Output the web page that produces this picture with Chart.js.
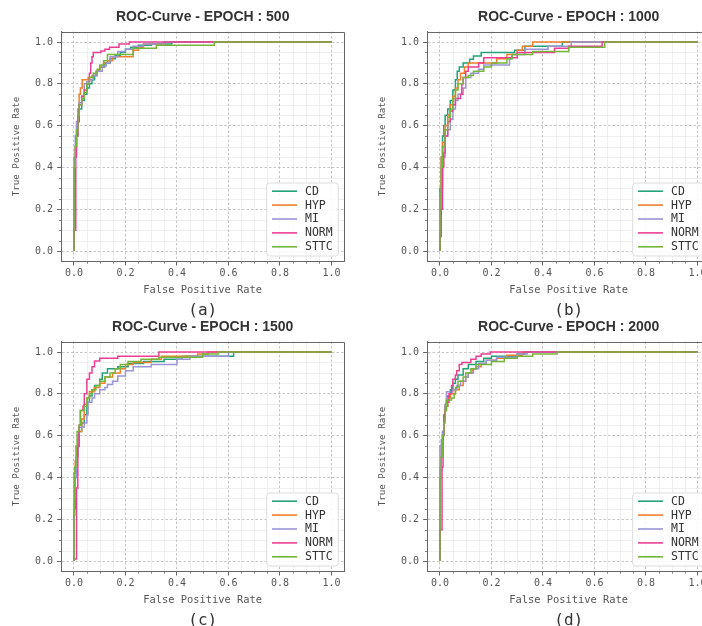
<!DOCTYPE html>
<html><head><meta charset="utf-8">
<script src="https://cdn.jsdelivr.net/npm/chart.js@4.4.1/dist/chart.umd.min.js"></script>
<style>
html,body{margin:0;padding:0;background:#fff;overflow:hidden;width:702px;height:626px;}
body{position:relative;}
canvas{position:absolute;}
</style></head><body>
<canvas id="ca" width="351" height="320" style="left:0px;top:0px;width:351px;height:320px"></canvas>
<canvas id="cb" width="351" height="320" style="left:366px;top:0px;width:351px;height:320px"></canvas>
<canvas id="cc" width="351" height="320" style="left:0px;top:310px;width:351px;height:320px"></canvas>
<canvas id="cd" width="351" height="320" style="left:366px;top:310px;width:351px;height:320px"></canvas>
<script>
// ---------- labels ----------
const SERIES_NAMES = ['CD', 'HYP', 'MI', 'NORM', 'STTC'];
const PANEL_TITLES = ['ROC-Curve - EPOCH : 500', 'ROC-Curve - EPOCH : 1000', 'ROC-Curve - EPOCH : 1500', 'ROC-Curve - EPOCH : 2000'];
const PANEL_CAPTIONS = ['(a)', '(b)', '(c)', '(d)'];
const MAJOR_TICKS = [0.0, 0.2, 0.4, 0.6, 0.8, 1.0];
const MINOR_TICKS = [0.05, 0.1, 0.15, 0.25, 0.3, 0.35, 0.45, 0.5, 0.55, 0.65, 0.7, 0.75, 0.85, 0.9, 0.95];
const X_TITLE = 'False Positive Rate';
const Y_TITLE = 'True Positive Rate';

// ---------- EPOCH 500 ----------
const FPR_500_CD   = [0,0,0.003,0.008,0.015,0.02,0.03,0.04,0.05,0.06,0.07,0.08,0.09,0.1,0.12,0.14,0.16,0.18,0.2,0.22,0.25,0.3,0.38,1];
const TPR_500_CD   = [0,0.25,0.45,0.55,0.62,0.68,0.72,0.75,0.78,0.8,0.82,0.84,0.86,0.88,0.9,0.92,0.935,0.95,0.965,0.975,0.985,0.99,1,1];
const FPR_500_HYP  = [0,0,0.005,0.01,0.015,0.02,0.025,0.032,0.055,0.07,0.085,0.1,0.115,0.13,0.15,0.23,0.25,0.27,0.35,1];
const TPR_500_HYP  = [0,0.3,0.5,0.6,0.68,0.75,0.78,0.82,0.83,0.84,0.86,0.88,0.9,0.91,0.93,0.96,0.975,0.99,1,1];
const FPR_500_MI   = [0,0,0.005,0.01,0.02,0.03,0.04,0.05,0.06,0.075,0.09,0.11,0.125,0.14,0.17,0.2,0.23,0.27,0.35,1];
const TPR_500_MI   = [0,0.45,0.55,0.62,0.71,0.74,0.8,0.81,0.82,0.84,0.86,0.885,0.9,0.93,0.955,0.965,0.98,0.99,1,1];
const FPR_500_NORM = [0,0,0.007,0.01,0.015,0.02,0.03,0.04,0.05,0.06,0.065,0.07,0.075,0.105,0.12,0.138,0.175,0.215,1];
const TPR_500_NORM = [0,0.1,0.45,0.55,0.62,0.7,0.74,0.77,0.8,0.85,0.9,0.93,0.95,0.957,0.965,0.975,0.99,1,1];
const FPR_500_STTC = [0,0,0.005,0.01,0.015,0.02,0.03,0.04,0.05,0.06,0.075,0.09,0.1,0.115,0.13,0.23,0.32,0.545,1];
const TPR_500_STTC = [0,0.4,0.5,0.58,0.65,0.7,0.73,0.76,0.8,0.83,0.85,0.87,0.89,0.91,0.94,0.97,0.985,1,1];

// ---------- EPOCH 1000 ----------
const FPR_1000_CD   = [0,0,0.005,0.01,0.015,0.02,0.03,0.04,0.05,0.06,0.067,0.075,0.09,0.115,0.13,0.16,0.29,0.33,0.475,1];
const TPR_1000_CD   = [0,0.3,0.45,0.55,0.6,0.65,0.68,0.72,0.77,0.82,0.86,0.88,0.9,0.917,0.933,0.95,0.96,0.98,1,1];
const FPR_1000_HYP  = [0,0,0.005,0.01,0.02,0.03,0.04,0.05,0.06,0.07,0.08,0.095,0.11,0.22,0.26,0.3,0.32,0.36,1];
const TPR_1000_HYP  = [0,0.25,0.45,0.52,0.6,0.65,0.7,0.74,0.78,0.82,0.85,0.88,0.9,0.92,0.94,0.96,0.98,1,1];
const FPR_1000_MI   = [0,0,0.005,0.01,0.02,0.03,0.04,0.05,0.06,0.07,0.09,0.1,0.12,0.15,0.17,0.27,0.28,0.33,0.42,0.51,1];
const TPR_1000_MI   = [0,0.2,0.3,0.45,0.55,0.58,0.63,0.68,0.72,0.75,0.78,0.83,0.85,0.87,0.89,0.92,0.94,0.965,0.98,1,1];
const FPR_1000_NORM = [0,0,0.005,0.01,0.015,0.02,0.03,0.04,0.05,0.06,0.08,0.085,0.09,0.1,0.11,0.15,0.17,0.3,0.445,0.5,0.63,1];
const TPR_1000_NORM = [0,0.07,0.2,0.4,0.47,0.55,0.62,0.67,0.7,0.73,0.75,0.8,0.83,0.86,0.88,0.9,0.925,0.95,0.97,0.98,1,1];
const FPR_1000_STTC = [0,0,0.005,0.01,0.02,0.03,0.04,0.05,0.06,0.07,0.09,0.11,0.13,0.17,0.2,0.26,0.28,0.36,0.5,0.64,1];
const TPR_1000_STTC = [0,0.28,0.4,0.5,0.58,0.64,0.68,0.73,0.77,0.8,0.83,0.84,0.86,0.88,0.9,0.92,0.94,0.955,0.975,1,1];

// ---------- EPOCH 1500 ----------
const FPR_1500_CD   = [0,0,0.005,0.01,0.015,0.02,0.03,0.04,0.05,0.06,0.07,0.08,0.1,0.11,0.13,0.17,0.21,0.27,0.35,0.42,0.62,1];
const TPR_1500_CD   = [0,0.25,0.4,0.5,0.58,0.62,0.66,0.7,0.76,0.79,0.82,0.84,0.87,0.9,0.92,0.93,0.945,0.955,0.965,0.98,1,1];
const FPR_1500_HYP  = [0,0,0.005,0.01,0.02,0.03,0.04,0.05,0.06,0.08,0.1,0.12,0.15,0.18,0.2,0.23,0.3,0.34,0.48,0.52,1];
const TPR_1500_HYP  = [0,0.42,0.48,0.55,0.62,0.68,0.75,0.78,0.81,0.83,0.85,0.88,0.9,0.92,0.94,0.95,0.965,0.98,0.99,1,1];
const FPR_1500_MI   = [0,0,0.005,0.01,0.015,0.02,0.04,0.05,0.055,0.07,0.08,0.1,0.12,0.13,0.15,0.17,0.2,0.23,0.3,0.4,0.45,0.6,1];
const TPR_1500_MI   = [0,0.3,0.4,0.5,0.6,0.64,0.66,0.7,0.76,0.78,0.8,0.82,0.83,0.845,0.86,0.885,0.91,0.93,0.94,0.965,0.98,1,1];
const FPR_1500_NORM = [0,0,0.008,0.01,0.015,0.02,0.025,0.035,0.04,0.05,0.06,0.07,0.08,0.1,0.17,0.33,1];
const TPR_1500_NORM = [0,0.01,0.01,0.35,0.55,0.65,0.72,0.74,0.8,0.87,0.9,0.93,0.957,0.97,0.98,1,1];
const FPR_1500_STTC = [0,0,0.003,0.008,0.012,0.02,0.025,0.04,0.05,0.06,0.07,0.085,0.1,0.12,0.14,0.16,0.18,0.21,0.26,0.33,0.5,0.56,1];
const TPR_1500_STTC = [0,0.22,0.45,0.55,0.62,0.65,0.72,0.74,0.78,0.8,0.82,0.84,0.86,0.88,0.9,0.92,0.94,0.955,0.965,0.975,0.99,1,1];

// ---------- EPOCH 2000 ----------
const FPR_2000_CD   = [0,0,0.005,0.01,0.015,0.02,0.03,0.04,0.05,0.06,0.07,0.09,0.11,0.14,0.17,0.2,0.3,0.33,1];
const TPR_2000_CD   = [0,0.4,0.5,0.6,0.68,0.74,0.79,0.82,0.85,0.87,0.89,0.92,0.94,0.955,0.97,0.98,0.99,1,1];
const FPR_2000_HYP  = [0,0,0.005,0.01,0.015,0.02,0.03,0.04,0.06,0.075,0.09,0.1,0.11,0.125,0.14,0.16,0.18,0.22,0.26,0.32,1];
const TPR_2000_HYP  = [0,0.45,0.55,0.62,0.7,0.74,0.78,0.8,0.82,0.84,0.86,0.88,0.9,0.92,0.93,0.945,0.96,0.97,0.985,1,1];
const FPR_2000_MI   = [0,0,0.005,0.01,0.015,0.02,0.025,0.05,0.065,0.08,0.1,0.11,0.13,0.15,0.18,0.22,0.3,0.34,1];
const TPR_2000_MI   = [0,0.55,0.58,0.62,0.68,0.75,0.81,0.82,0.84,0.86,0.88,0.9,0.92,0.945,0.96,0.975,0.99,1,1];
const FPR_2000_NORM = [0,0,0.006,0.008,0.012,0.015,0.02,0.025,0.035,0.045,0.05,0.06,0.065,0.075,0.085,0.12,0.14,0.16,0.195,1];
const TPR_2000_NORM = [0,0.15,0.15,0.45,0.6,0.7,0.72,0.76,0.8,0.84,0.87,0.89,0.91,0.94,0.95,0.965,0.98,0.99,1,1];
const FPR_2000_STTC = [0,0,0.005,0.01,0.015,0.02,0.025,0.045,0.055,0.06,0.07,0.09,0.1,0.12,0.14,0.2,0.25,0.3,0.36,0.455,1];
const TPR_2000_STTC = [0,0.4,0.5,0.6,0.66,0.72,0.77,0.78,0.8,0.83,0.86,0.88,0.9,0.92,0.94,0.955,0.97,0.98,0.99,1,1];

const COLORS = ['#23a27c', '#f07f2e', '#9a95d6', '#ec3f93', '#74b53a'];

const PANELS = [
  [[FPR_500_CD, TPR_500_CD], [FPR_500_HYP, TPR_500_HYP], [FPR_500_MI, TPR_500_MI], [FPR_500_NORM, TPR_500_NORM], [FPR_500_STTC, TPR_500_STTC]],
  [[FPR_1000_CD, TPR_1000_CD], [FPR_1000_HYP, TPR_1000_HYP], [FPR_1000_MI, TPR_1000_MI], [FPR_1000_NORM, TPR_1000_NORM], [FPR_1000_STTC, TPR_1000_STTC]],
  [[FPR_1500_CD, TPR_1500_CD], [FPR_1500_HYP, TPR_1500_HYP], [FPR_1500_MI, TPR_1500_MI], [FPR_1500_NORM, TPR_1500_NORM], [FPR_1500_STTC, TPR_1500_STTC]],
  [[FPR_2000_CD, TPR_2000_CD], [FPR_2000_HYP, TPR_2000_HYP], [FPR_2000_MI, TPR_2000_MI], [FPR_2000_NORM, TPR_2000_NORM], [FPR_2000_STTC, TPR_2000_STTC]]
];

const MONO = "'DejaVu Sans Mono', monospace";
const SPINE = '#666666';

const decorPlugin = {
  id: 'decor',
  beforeDraw(chart) {
    const {ctx, chartArea: a, scales: {x, y}} = chart;
    ctx.save();
    ctx.lineWidth = 0.8;
    MINOR_TICKS.forEach(v => {
      const px = Math.round(x.getPixelForValue(v)) + 0.5;
      const py = Math.round(y.getPixelForValue(v)) + 0.5;
      ctx.strokeStyle = '#ebebeb';
      ctx.beginPath(); ctx.moveTo(px, a.top); ctx.lineTo(px, a.bottom); ctx.stroke();
      ctx.beginPath(); ctx.moveTo(a.left, py); ctx.lineTo(a.right, py); ctx.stroke();
      ctx.strokeStyle = SPINE;
      ctx.beginPath(); ctx.moveTo(px, a.bottom); ctx.lineTo(px, a.bottom + 2.2); ctx.stroke();
      ctx.beginPath(); ctx.moveTo(a.left, py); ctx.lineTo(a.left - 2.2, py); ctx.stroke();
    });
    ctx.restore();
  },
  afterDatasetsDraw(chart) {
    const {ctx, chartArea: a} = chart;
    ctx.save();
    ctx.strokeStyle = SPINE; ctx.lineWidth = 1;
    const t = Math.round(a.top) + 0.5, r = Math.round(a.right) + 0.5;
    ctx.beginPath(); ctx.moveTo(a.left, t); ctx.lineTo(r, t); ctx.lineTo(r, a.bottom); ctx.stroke();
    ctx.restore();
  },
  afterDraw(chart) {
    const {ctx, chartArea: a} = chart;
    const w = 71.6, h = 73, rowH = 13.9;
    const bx = a.right - 6 - w, by = a.bottom - 5.5 - h;
    ctx.save();
    ctx.beginPath();
    if (ctx.roundRect) ctx.roundRect(bx, by, w, h, 3); else ctx.rect(bx, by, w, h);
    ctx.fillStyle = 'rgba(255,255,255,0.85)';
    ctx.fill();
    ctx.strokeStyle = '#dcdcdc'; ctx.lineWidth = 1;
    ctx.stroke();
    ctx.font = '11.5px ' + MONO;
    ctx.textBaseline = 'middle';
    chart.data.datasets.forEach((ds, i) => {
      const cy = by + 8.2 + i * rowH;
      ctx.strokeStyle = ds.borderColor; ctx.lineWidth = 1.6;
      ctx.beginPath(); ctx.moveTo(bx + 5.3, cy); ctx.lineTo(bx + 30.3, cy); ctx.stroke();
      ctx.fillStyle = '#333333';
      ctx.fillText(ds.label, bx + 38.3, cy + 0.5);
    });
    ctx.restore();
  }
};

function makeChart(canvasId, p) {
  const datasets = SERIES_NAMES.map((name, i) => ({
    label: name,
    data: PANELS[p][i][0].map((fx, j) => ({x: fx, y: PANELS[p][i][1][j]})),
    borderColor: COLORS[i],
    backgroundColor: COLORS[i],
    borderWidth: 1.5,
    pointRadius: 0,
    pointHoverRadius: 0,
    showLine: true,
    stepped: 'before',
    fill: false,
    order: SERIES_NAMES.length - 1 - i
  }));
  const axisCommon = (isX) => ({
    type: 'linear',
    min: -0.05, max: 1.05,
    afterBuildTicks: s => { s.ticks = MAJOR_TICKS.map(v => ({value: v})); },
    afterFit: s => { if (isX) s.height = 39.3; else s.width = 61.1; },
    ticks: {
      callback: v => Number(v).toFixed(1),
      font: {family: MONO, size: 10},
      color: '#555555',
      padding: isX ? 1.5 : 4,
      maxRotation: 0,
      autoSkip: false
    },
    grid: {color: '#b8b8b8', lineWidth: 0.8, drawTicks: true, tickLength: 4, tickColor: SPINE, tickWidth: 1},
    border: {display: true, color: SPINE, width: 1, dash: [2.5, 2]},
    title: {
      display: true,
      text: isX ? X_TITLE : Y_TITLE,
      font: {family: MONO, size: isX ? 10.4 : 9.2},
      color: '#555555',
      padding: isX ? {top: 0, bottom: 4.5} : {top: 11.5, bottom: 0}
    }
  });
  return new Chart(document.getElementById(canvasId), {
    type: 'scatter',
    data: {datasets},
    options: {
      responsive: false,
      animation: false,
      devicePixelRatio: 1,
      layout: {padding: {left: 0, right: 6.7, top: 0, bottom: 0}},
      scales: {
        x: Object.assign({position: 'bottom'}, axisCommon(true)),
        y: Object.assign({position: 'left'}, axisCommon(false))
      },
      plugins: {
        legend: {display: false},
        tooltip: {enabled: false},
        title: {
          display: true, text: PANEL_TITLES[p], fullSize: false,
          font: {family: "'Liberation Sans', Arial, sans-serif", size: 14, weight: 'bold'},
          color: '#333333',
          padding: {top: 9, bottom: 5.75}
        },
        subtitle: {
          display: true, text: PANEL_CAPTIONS[p], position: 'bottom', fullSize: false,
          font: {family: MONO, size: 16},
          color: '#333333',
          padding: {top: 0, bottom: 0}
        }
      }
    },
    plugins: [decorPlugin]
  });
}

makeChart('ca', 0);
makeChart('cb', 1);
makeChart('cc', 2);
makeChart('cd', 3);
</script>
</body></html>
